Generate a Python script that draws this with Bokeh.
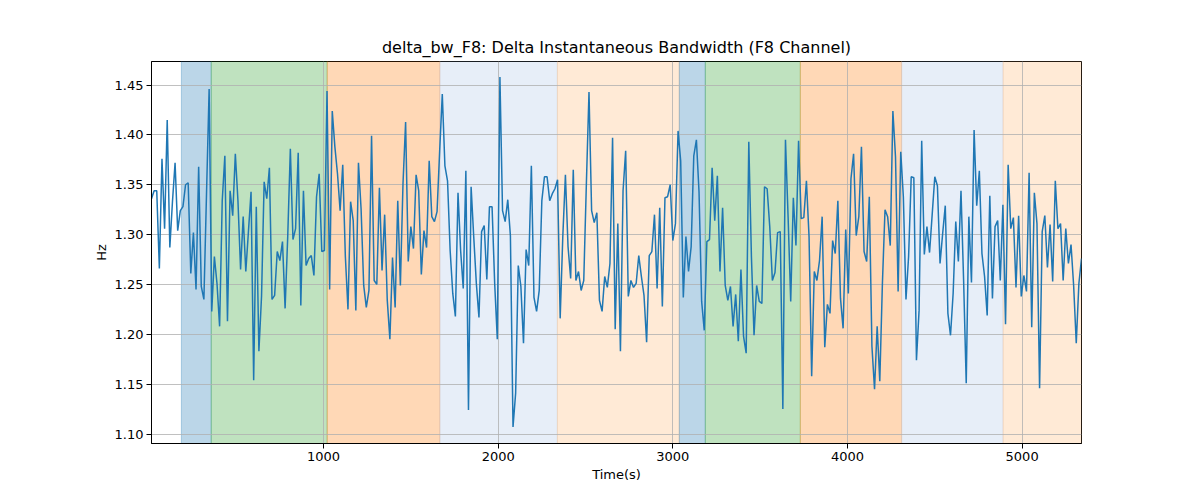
import numpy as np
from bokeh.plotting import figure
from bokeh.models import Range1d, FixedTicker, PrintfTickFormatter
from bokeh.embed import file_html
from bokeh.resources import INLINE

# delta instantaneous bandwidth of channel F8, one sample every 15 s
bw_hz = [
    1.336, 1.344, 1.344, 1.266, 1.376, 1.306, 1.415, 1.287, 1.333, 1.372,
    1.304, 1.324, 1.328, 1.350, 1.352, 1.261, 1.302, 1.245, 1.368, 1.248,
    1.235, 1.341, 1.446, 1.223, 1.278, 1.251, 1.208, 1.334, 1.379, 1.213,
    1.344, 1.319, 1.381, 1.334, 1.265, 1.318, 1.263, 1.303, 1.343, 1.154,
    1.328, 1.183, 1.238, 1.353, 1.336, 1.367, 1.235, 1.239, 1.283, 1.274,
    1.293, 1.226, 1.298, 1.386, 1.295, 1.306, 1.382, 1.229, 1.344, 1.269,
    1.276, 1.279, 1.259, 1.338, 1.361, 1.283, 1.284, 1.444, 1.245, 1.424,
    1.388, 1.361, 1.324, 1.370, 1.278, 1.225, 1.333, 1.314, 1.224, 1.372,
    1.326, 1.249, 1.227, 1.244, 1.399, 1.254, 1.250, 1.347, 1.264, 1.320,
    1.234, 1.195,
    1.277, 1.227, 1.334, 1.249, 1.351, 1.413, 1.273, 1.308, 1.286, 1.360,
    1.344, 1.260, 1.304, 1.287, 1.374, 1.318, 1.313, 1.323, 1.384, 1.441,
    1.369, 1.354, 1.284, 1.241, 1.218, 1.342, 1.284, 1.246, 1.364, 1.124,
    1.348, 1.298, 1.251, 1.217, 1.303, 1.309, 1.255, 1.328, 1.328, 1.251,
    1.195, 1.458, 1.324, 1.313, 1.335, 1.299, 1.107, 1.141, 1.269, 1.248,
    1.191, 1.285, 1.269, 1.369, 1.237, 1.223, 1.244, 1.334, 1.358, 1.358,
    1.334, 1.341, 1.346, 1.355, 1.216, 1.298, 1.360, 1.288, 1.256, 1.365,
    1.254, 1.263, 1.244, 1.254, 1.351, 1.443, 1.324, 1.312, 1.322, 1.234,
    1.223, 1.258, 1.247, 1.271, 1.397, 1.205, 1.311, 1.183, 1.344, 1.384,
    1.238, 1.254,
    1.247, 1.251, 1.279, 1.258, 1.239, 1.192, 1.279, 1.283, 1.320, 1.246,
    1.327, 1.228, 1.337, 1.338, 1.350, 1.294, 1.311, 1.404, 1.374, 1.237,
    1.298, 1.263, 1.288, 1.379, 1.395, 1.343, 1.233, 1.204, 1.293, 1.295,
    1.367, 1.314, 1.359, 1.263, 1.327, 1.249, 1.234, 1.248, 1.208, 1.240,
    1.193, 1.265, 1.198, 1.181, 1.393, 1.278, 1.199, 1.249, 1.233, 1.231,
    1.348, 1.346, 1.308, 1.254, 1.262, 1.302, 1.303, 1.125, 1.395, 1.318,
    1.233, 1.337, 1.289, 1.394, 1.316, 1.317, 1.354, 1.298, 1.158, 1.263,
    1.254, 1.274, 1.318, 1.187, 1.230, 1.221, 1.294, 1.281, 1.334, 1.236,
    1.206, 1.305, 1.241, 1.356, 1.381, 1.299, 1.318, 1.388, 1.283, 1.273,
    1.338, 1.188,
    1.145, 1.208, 1.153, 1.251, 1.325, 1.318, 1.289, 1.424, 1.378, 1.243,
    1.383, 1.338, 1.235, 1.278, 1.358, 1.357, 1.174, 1.224, 1.394, 1.280,
    1.308, 1.282, 1.320, 1.358, 1.349, 1.271, 1.301, 1.329, 1.221, 1.199,
    1.241, 1.313, 1.273, 1.344, 1.254, 1.151, 1.318, 1.252, 1.405, 1.329,
    1.364, 1.281, 1.258, 1.219, 1.339, 1.236, 1.308, 1.314, 1.254, 1.330,
    1.210, 1.370, 1.306, 1.317, 1.247, 1.319, 1.238, 1.259, 1.243, 1.362,
    1.207, 1.342, 1.311, 1.146, 1.303, 1.319, 1.267, 1.310, 1.253, 1.354,
    1.306, 1.311, 1.254, 1.306, 1.271, 1.290, 1.249, 1.191, 1.251, 1.276,
]
t_first = 15
t_step = 15
time_s = [t_first + t_step * i for i in range(len(bw_hz))]

# shaded phases (start, end in seconds)
phase_start = [186, 357, 1021, 1666, 2339, 3037, 3186, 3730, 4310, 4891]
phase_end = [357, 1021, 1666, 2339, 3037, 3186, 3730, 4310, 4891, 5400]
phase_color = ["#1f77b4", "#2ca02c", "#ff7f0e", "#aec7e8", "#ffbb78",
               "#1f77b4", "#2ca02c", "#ff7f0e", "#aec7e8", "#ffbb78"]

x_ticks = [1000, 2000, 3000, 4000, 5000]
y_ticks = [1.10, 1.15, 1.20, 1.25, 1.30, 1.35, 1.40, 1.45]

FONT = "DejaVu Sans"

p = figure(width=1184, height=484, output_backend="svg", toolbar_location=None,
           title="delta_bw_F8: Delta Instantaneous Bandwidth (F8 Channel)",
           x_range=Range1d(t_first, time_s[-1]), y_range=Range1d(1.0905, 1.4736),
           x_axis_label="Time(s)", y_axis_label="Hz")
p.min_border_left = 151
p.min_border_right = 103
p.min_border_top = 61
p.min_border_bottom = 39

p.quad(left=phase_start, right=phase_end, bottom=[0] * 10, top=[2] * 10,
       fill_color=phase_color, fill_alpha=0.3, line_color=phase_color,
       line_alpha=0.3, line_width=1, level="image")

p.line(time_s, bw_hz, line_color="#1f77b4", line_width=1.5)

p.title.text_font = FONT
p.title.text_font_size = "16px"
p.title.text_font_style = "normal"
p.title.text_color = "black"
p.title.align = "center"

p.outline_line_color = "black"
p.outline_line_alpha = 1
p.outline_line_width = 1

for grid in (p.xgrid, p.ygrid):
    grid.grid_line_color = "#b0b0b0"
    grid.grid_line_width = 0.8
p.xgrid.ticker = FixedTicker(ticks=x_ticks)
p.ygrid.ticker = FixedTicker(ticks=y_ticks)

p.xaxis.ticker = FixedTicker(ticks=x_ticks)
p.yaxis.ticker = FixedTicker(ticks=y_ticks)
p.yaxis.formatter = PrintfTickFormatter(format="%.2f")

for ax in (p.xaxis, p.yaxis):
    ax.axis_line_color = "black"
    ax.major_tick_line_color = "black"
    ax.major_tick_out = 5
    ax.major_tick_in = 0
    ax.minor_tick_out = 0
    ax.minor_tick_in = 0
    ax.major_label_text_font = FONT
    ax.major_label_text_font_size = "13px"
    ax.major_label_text_color = "black"
    ax.major_label_standoff = 3
    ax.axis_label_text_font = FONT
    ax.axis_label_text_font_size = "13px"
    ax.axis_label_text_font_style = "normal"
    ax.axis_label_text_color = "black"
    ax.axis_label_standoff = 3

open("out.html", "w").write(file_html(p, INLINE))
